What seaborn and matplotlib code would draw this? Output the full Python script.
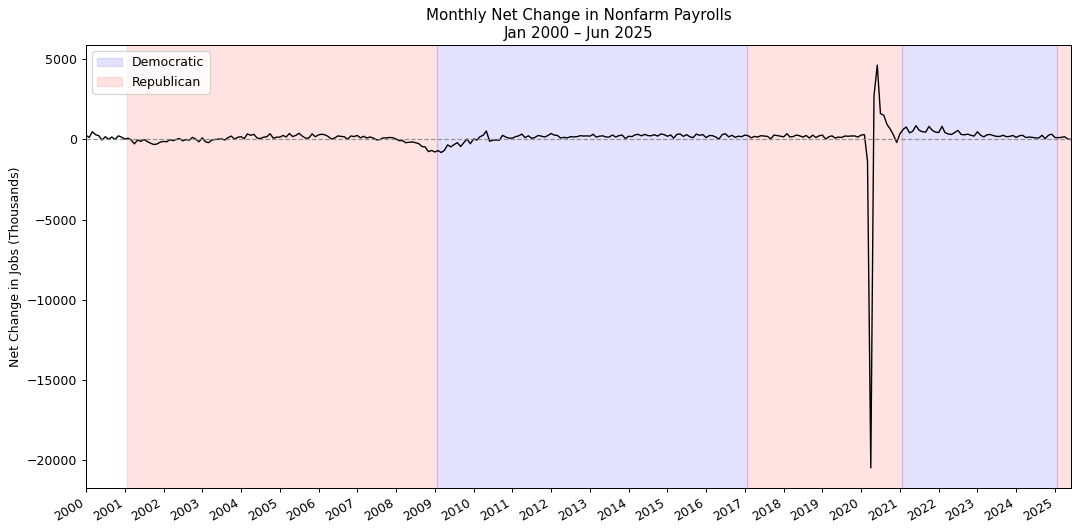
import matplotlib
matplotlib.use("Agg")
import matplotlib.pyplot as plt
import matplotlib.dates as mdates
import seaborn as sns
import pandas as pd

# monthly net change in nonfarm payrolls, thousands
chg_2000 = [249, 120, 469, 285, 221, -44, 160, 0, 140, -8, 214, 135]
chg_2001 = [14, 62, -30, -284, -46, -128, -9, -141, -244, -325, -292, -172]
chg_2002 = [-133, -152, -23, -85, -8, 45, -97, -12, -59, 122, 9, -158]
chg_2003 = [95, -158, -212, -49, -9, 3, 25, -42, 105, 200, 15, 124]
chg_2004 = [161, 43, 336, 250, 310, 81, 45, 131, 161, 348, 65, 130]
chg_2005 = [136, 240, 142, 362, 171, 244, 372, 197, 68, 84, 337, 159]
chg_2006 = [277, 315, 280, 180, 22, 75, 209, 182, 156, 4, 208, 171]
chg_2007 = [238, 89, 189, 79, 143, 78, -33, -24, 88, 84, 114, 98]
chg_2008 = [17, -84, -78, -210, -185, -165, -209, -266, -452, -473, -769, -695]
chg_2009 = [-791, -703, -823, -687, -349, -471, -329, -209, -452, -205, 15, -280]
chg_2010 = [18, -50, 156, 251, 516, -122, -61, -42, -57, 247, 137, 71]
chg_2011 = [70, 168, 212, 322, 102, 217, 62, 110, 238, 199, 140, 230]
chg_2012 = [361, 259, 239, 76, 122, 88, 160, 150, 161, 225, 203, 214]
chg_2013 = [196, 311, 135, 192, 218, 146, 140, 268, 143, 225, 264, 44]
chg_2014 = [187, 168, 272, 310, 213, 306, 232, 218, 286, 200, 331, 292]
chg_2015 = [190, 271, 70, 309, 332, 182, 292, 157, 107, 325, 248, 296]
chg_2016 = [107, 237, 226, 142, 17, 294, 346, 151, 253, 120, 195, 163]
chg_2017 = [262, 219, 91, 179, 142, 224, 201, 182, 26, 261, 233, 196]
chg_2018 = [153, 349, 143, 172, 264, 216, 139, 237, 81, 259, 113, 216]
chg_2019 = [261, 8, 155, 217, 76, 139, 115, 203, 191, 206, 212, 139]
chg_2020 = [264, 288, -1373, -20471, 2700, 4620, 1600, 1500, 920, 640, 260, -200]
chg_2021 = [350, 620, 770, 400, 500, 850, 560, 470, 450, 800, 560, 450]
chg_2022 = [420, 810, 420, 330, 300, 420, 560, 300, 280, 320, 250, 200]
chg_2023 = [470, 250, 150, 280, 300, 230, 180, 180, 250, 160, 180, 240]
chg_2024 = [120, 220, 250, 110, 140, 120, 90, 80, 250, 40, 260, 320]
chg_2025 = [110, 100, 120, 160, 20, -13]

# presidential terms shown as shaded bands
term_starts = ["2001-01-20", "2009-01-20", "2017-01-20", "2021-01-20", "2025-01-20"]
term_ends = ["2009-01-20", "2017-01-20", "2021-01-20", "2025-01-20", "2025-06-01"]
term_parties = ["Republican", "Democratic", "Republican", "Democratic", "Republican"]
party_colors = {"Democratic": "blue", "Republican": "red"}

values = (chg_2000 + chg_2001 + chg_2002 + chg_2003 + chg_2004 + chg_2005 + chg_2006
          + chg_2007 + chg_2008 + chg_2009 + chg_2010 + chg_2011 + chg_2012 + chg_2013
          + chg_2014 + chg_2015 + chg_2016 + chg_2017 + chg_2018 + chg_2019 + chg_2020
          + chg_2021 + chg_2022 + chg_2023 + chg_2024 + chg_2025)
dates = pd.date_range("2000-01-01", "2025-06-01", freq="MS")
df = pd.DataFrame({"date": dates, "change": values})

fig, ax = plt.subplots(figsize=(12, 532 / 90), dpi=90)

seen = set()
for start, end, party in zip(term_starts, term_ends, term_parties):
    ax.axvspan(pd.Timestamp(start), pd.Timestamp(end), color=party_colors[party],
               alpha=0.11, label=None if party in seen else party)
    seen.add(party)

sns.lineplot(data=df, x="date", y="change", color="black", linewidth=1.1, ax=ax)
ax.axhline(0, color="gray", linestyle="--", linewidth=1, alpha=0.8)

ax.set_xlim(df["date"].min(), df["date"].max())
ax.xaxis.set_major_locator(mdates.YearLocator())
ax.xaxis.set_major_formatter(mdates.DateFormatter("%Y"))
fig.autofmt_xdate()

ax.set_xlabel("")
ax.set_ylabel("Net Change in Jobs (Thousands)")
ax.set_title("Monthly Net Change in Nonfarm Payrolls\nJan 2000 – Jun 2025")

handles, labels = ax.get_legend_handles_labels()
order = sorted(range(len(labels)), key=lambda i: labels[i])
ax.legend([handles[i] for i in order], [labels[i] for i in order], loc="upper left")

fig.subplots_adjust(left=0.0796, right=0.9917, top=0.9154, bottom=0.0827)
fig.savefig("out.png", dpi=90)
